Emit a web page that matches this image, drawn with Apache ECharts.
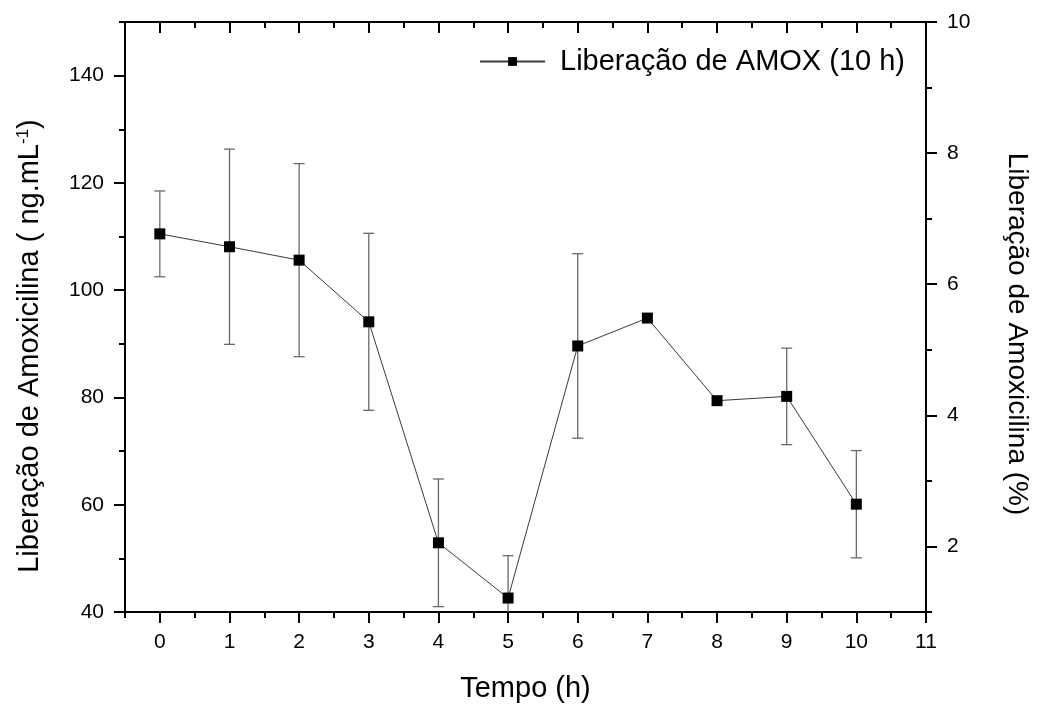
<!DOCTYPE html>
<html>
<head>
<meta charset="utf-8">
<script src="https://cdn.jsdelivr.net/npm/echarts@6/dist/echarts.min.js"></script>
<style>
  html, body { margin: 0; padding: 0; background: #fff; }
  #chart { width: 1042px; height: 707px; }
</style>
</head>
<body>
<div id="chart"></div>
<script>
// Amoxicillin release over time (mean and standard deviation)
const tempo = [0, 1, 2, 3, 4, 5, 6, 7, 8, 9, 10];
const liberacao = [110.5, 108.1, 105.6, 94.1, 52.9, 42.6, 89.6, 94.8, 79.4, 80.2, 60.1];
const desvio = [8.0, 18.2, 18.0, 16.5, 11.9, 7.9, 17.2, 0, 0, 9.0, 10.0];

// Tick positions
const xMajor = [0, 1, 2, 3, 4, 5, 6, 7, 8, 9, 10, 11];
const xMinor = [-0.5, 0.5, 1.5, 2.5, 3.5, 4.5, 5.5, 6.5, 7.5, 8.5, 9.5, 10.5];
const yLeftMajor = [40, 60, 80, 100, 120, 140];
const yLeftMinor = [50, 70, 90, 110, 130, 150];
const yRightMajor = [2, 4, 6, 8, 10];
const yRightMinor = [1, 3, 5, 7, 9];

const FONT = "'Liberation Sans', Arial, sans-serif";
const lineAxis = { show: true, onZero: false, lineStyle: { color: '#000', width: 2 } };
const noLine = { show: false, onZero: false };
const tickStyle = { color: '#000', width: 2 };

const chart = echarts.init(document.getElementById('chart'));

const pontos = tempo.map((t, i) => [t, liberacao[i]]);
const barras = tempo.map((t, i) => [t, liberacao[i], desvio[i]]);

const option = {
  backgroundColor: '#fff',
  animation: false,
  textStyle: { fontFamily: FONT },
  grid: { left: 125, right: 116, top: 22, bottom: 95, outerBoundsMode: 'none' },
  legend: {
    data: ['Liberação de AMOX (10 h)'],
    right: 137, top: 47, padding: 0,
    itemWidth: 65, itemHeight: 11,
    textStyle: { fontSize: 29, color: '#000', fontFamily: FONT, padding: [0, 0, 0, 10] }
  },
  xAxis: [
    { // bottom: labels and major ticks
      type: 'value', position: 'bottom', min: -0.5, max: 11,
      axisLine: lineAxis,
      axisTick: { show: true, length: 11, lineStyle: tickStyle, customValues: xMajor },
      axisLabel: { customValues: xMajor, fontSize: 21, color: '#000', margin: 20, fontFamily: FONT },
      splitLine: { show: false },
      name: 'Tempo (h)', nameLocation: 'middle', nameGap: 62,
      nameTextStyle: { fontSize: 29, color: '#000', fontFamily: FONT }
    },
    { // bottom: minor ticks
      type: 'value', position: 'bottom', min: -0.5, max: 11,
      axisLine: noLine,
      axisTick: { show: true, length: 6, lineStyle: tickStyle, customValues: xMinor },
      axisLabel: { show: false }, splitLine: { show: false }
    },
    { // top frame: major ticks inside
      type: 'value', position: 'top', min: -0.5, max: 11,
      axisLine: lineAxis,
      axisTick: { show: true, inside: true, length: 11, lineStyle: tickStyle, customValues: xMajor },
      axisLabel: { show: false }, splitLine: { show: false }
    },
    { // top frame: minor ticks inside
      type: 'value', position: 'top', min: -0.5, max: 11,
      axisLine: noLine,
      axisTick: { show: true, inside: true, length: 6, lineStyle: tickStyle, customValues: xMinor },
      axisLabel: { show: false }, splitLine: { show: false }
    }
  ],
  yAxis: [
    { // left: concentration
      type: 'value', position: 'left', min: 40, max: 150,
      axisLine: lineAxis,
      axisTick: { show: true, length: 11, lineStyle: tickStyle, customValues: yLeftMajor },
      axisLabel: { customValues: yLeftMajor, fontSize: 21, color: '#000', margin: 21, fontFamily: FONT },
      splitLine: { show: false },
      name: '{t|Liberação de Amoxicilina ( ng.mL}{s|-1}{t|)}{p|}',
      nameLocation: 'middle', nameGap: 80, nameRotate: 90,
      nameTextStyle: {
        fontFamily: FONT,
        rich: {
          t: { fontSize: 29, color: '#000', fontFamily: FONT, lineHeight: 30 },
          s: { fontSize: 17, color: '#000', fontFamily: FONT, verticalAlign: 'top', padding: [0, 0, 12, 0] },
          p: { width: 58 }
        }
      }
    },
    { // left: minor ticks
      type: 'value', position: 'left', min: 40, max: 150,
      axisLine: noLine,
      axisTick: { show: true, length: 6, lineStyle: tickStyle, customValues: yLeftMinor },
      axisLabel: { show: false }, splitLine: { show: false }
    },
    { // right: percentage
      type: 'value', position: 'right', min: 1, max: 10,
      axisLine: lineAxis,
      axisTick: { show: true, length: 11, lineStyle: tickStyle, customValues: yRightMajor },
      axisLabel: { customValues: yRightMajor, fontSize: 21, color: '#000', margin: 21, fontFamily: FONT },
      splitLine: { show: false },
      name: '{p|}{t|Liberação de Amoxicilina (%)}',
      nameLocation: 'middle', nameGap: 77, nameRotate: -90,
      nameTextStyle: {
        fontFamily: FONT,
        rich: {
          t: { fontSize: 28, color: '#000', fontFamily: FONT },
          p: { width: 34 }
        }
      }
    },
    { // right: minor ticks
      type: 'value', position: 'right', min: 1, max: 10,
      axisLine: noLine,
      axisTick: { show: true, length: 6, lineStyle: tickStyle, customValues: yRightMinor },
      axisLabel: { show: false }, splitLine: { show: false }
    }
  ],
  series: [
    {
      name: 'Desvio',
      type: 'custom',
      xAxisIndex: 0, yAxisIndex: 0,
      clip: true,
      z: 1,
      data: barras,
      encode: { x: 0, y: 1 },
      renderItem: function (params, api) {
        const x = api.value(0), y = api.value(1), e = api.value(2);
        if (!e) return null;
        const top = api.coord([x, y + e]);
        const bot = api.coord([x, y - e]);
        const half = 5.5;
        const style = { stroke: '#6a6a6a', lineWidth: 1.3 };
        return {
          type: 'group',
          children: [
            { type: 'line', shape: { x1: top[0], y1: top[1], x2: bot[0], y2: bot[1] }, style: style },
            { type: 'line', shape: { x1: top[0] - half, y1: top[1], x2: top[0] + half, y2: top[1] }, style: style },
            { type: 'line', shape: { x1: bot[0] - half, y1: bot[1], x2: bot[0] + half, y2: bot[1] }, style: style }
          ]
        };
      }
    },
    {
      name: 'Liberação de AMOX (10 h)',
      type: 'line',
      xAxisIndex: 0, yAxisIndex: 0,
      z: 3,
      data: pontos,
      symbol: 'rect',
      symbolSize: 11,
      showAllSymbol: true,
      itemStyle: { color: '#000' },
      lineStyle: { color: '#3a3a3a', width: 1 }
    }
  ]
};

chart.setOption(option);
</script>
</body>
</html>
